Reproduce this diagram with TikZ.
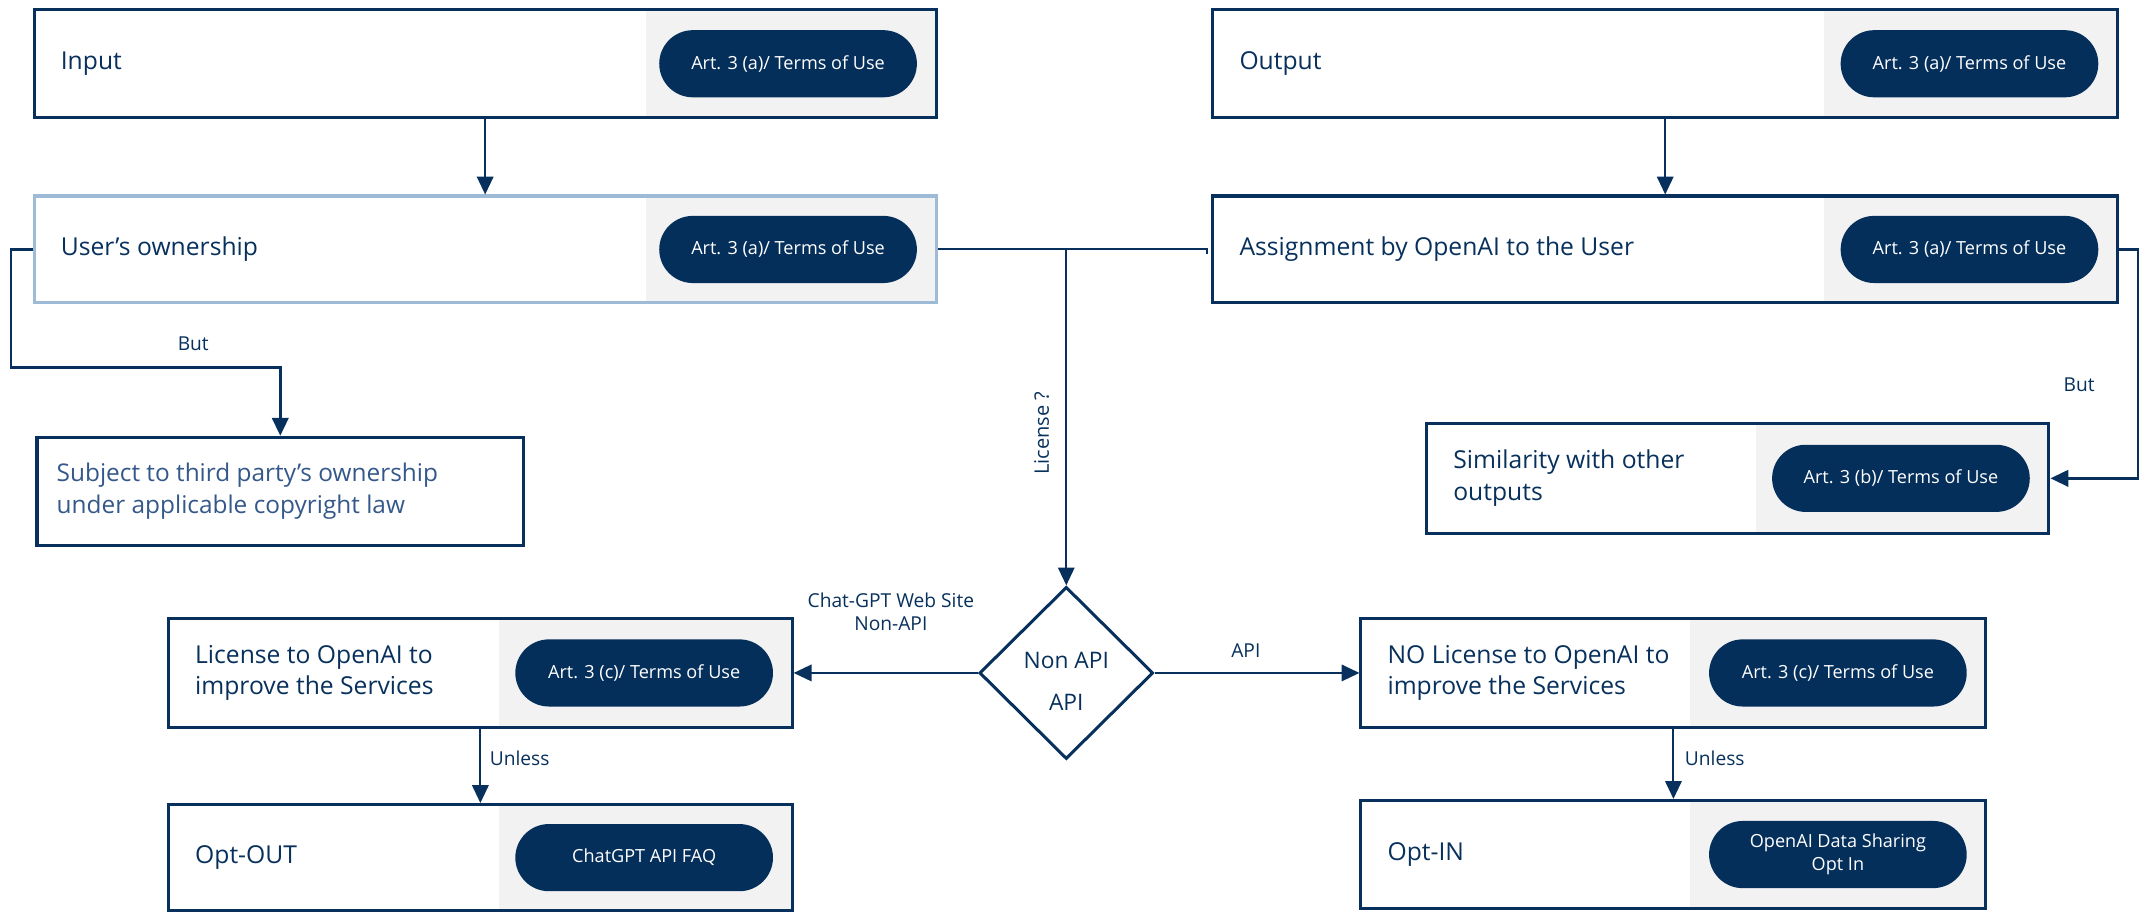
\documentclass[tikz,border=0pt]{standalone}
\usepackage{fontspec}
\setmainfont{Open Sans}
\usetikzlibrary{arrows.meta,shapes.geometric,fit}
\definecolor{navy}{HTML}{07305C}
\definecolor{pillc}{HTML}{052F5B}
\definecolor{grayfill}{HTML}{F2F2F2}
\definecolor{lightb}{HTML}{9DBAD6}
\definecolor{subjc}{HTML}{34588A}
\newcommand\mytitlefont{\fontsize{9}{11.5}\selectfont}
\newcommand\mypillfont{\fontsize{6.6}{8.5}\selectfont}
\newcommand\mylblfont{\fontsize{7}{8.5}\selectfont}
\newcommand\mkbox[9]{%
  \fill[grayfill] (#7,#4) rectangle (#5,#6);
  \node[box, draw=#2, fit={(#3,#4) (#5,#6)}] (#1) {};
  \node[titletext] (#1-t) at ({#3+19},{(#4+#6)/2}) {#8};
  \node[pill] (#1-p) at ({#5-108},{(#4+#6)/2}) {#9};
}
\begin{document}
\begin{tikzpicture}[x=0.5pt,y=-0.5pt,
  box/.style={line width=1.1pt, inner sep=0pt},
  pill/.style={fill=pillc, rounded corners=12.25pt, minimum width=94pt, minimum height=24.5pt,
    text=white, font=\mypillfont, align=center, inner sep=0pt},
  titletext/.style={font=\mytitlefont, text=navy, anchor=west, align=left, inner sep=0pt},
  subjtext/.style={font=\fontsize{8.9}{11.5}\selectfont, text=subjc, anchor=west, align=left, inner sep=0pt},
  conn/.style={draw=navy, line width=0.7pt},
  arr/.style={conn, -{Triangle[length=6.5pt,width=6pt]}},
  lbl/.style={font=\mylblfont, text=navy, inner sep=0pt, align=center},
]
\useasboundingbox (0,0) rectangle (1568,666);

% boxes
\mkbox{input}{navy}{25}{7}{683}{86}{471}{Input}{Art. 3 (a)/ Terms of Use}
\mkbox{user}{lightb}{25}{143}{683}{221}{471}{User’s ownership}{Art. 3 (a)/ Terms of Use}
\mkbox{output}{navy}{885}{7}{1545}{86}{1331}{Output}{Art. 3 (a)/ Terms of Use}
\mkbox{assign}{navy}{885}{143}{1545}{221}{1331}{Assignment by OpenAI to the User}{Art. 3 (a)/ Terms of Use}
\mkbox{sim}{navy}{1041}{309}{1495}{389}{1281}{Similarity with other\\outputs}{Art. 3 (b)/ Terms of Use}
\mkbox{lic}{navy}{123}{451}{578}{531}{364}{License to OpenAI to\\improve the Services}{Art. 3 (c)/ Terms of Use}
\mkbox{nolic}{navy}{993}{451}{1449}{531}{1233}{NO License to OpenAI to\\improve the Services}{Art. 3 (c)/ Terms of Use}
\mkbox{optout}{navy}{123}{587}{578}{664.5}{364}{Opt-OUT}{ChatGPT API FAQ}
\mkbox{optin}{navy}{993}{584}{1449}{663}{1233}{Opt-IN}{OpenAI Data Sharing\\Opt In}

\node[box, draw=navy, fit={(27,319) (382,398)}] (subj) {};
\node[subjtext] (subj-t) at (41,358.5) {Subject to third party’s ownership\\under applicable copyright law};

% diamond
\node[diamond, draw=navy, line width=1.1pt, minimum width=63.4pt, minimum height=62.8pt, inner sep=0pt] (dia) at (778,491) {};
\node[font=\fontsize{8.3}{15.5}\selectfont, text=navy, align=center, inner sep=0pt] (dia-t) at (778,497) {Non API\\API};

% connectors
\draw[arr] (input) -- (user);
\draw[arr] (output) -- (assign);
\draw[arr, line width=0.9pt] (user.west) -| (8,268) -| (subj.north);
\node[lbl] (but1) at (141,251) {But};
\draw[conn] (user.east) -- (880.5,182) -- (880.5,185);
\coordinate (jn) at (778,182);
\draw[arr] (jn) -- (dia.north);
\node[lbl, rotate=90, font=\fontsize{7.3}{8.5}\selectfont] (licq) at (760,316) {License ?};
\draw[arr, line width=0.9pt] (assign.east) -| (1560,349) -- (sim.east);
\node[lbl] (but2) at (1517,281) {But};
\draw[arr] (dia.west) -- (lic.east);
\node[lbl] (chat) at (650,446.5) {Chat-GPT Web Site\\Non-API};
\draw[arr] (dia.east) -- (nolic.west);
\node[lbl] (apil) at (909,475) {API};
\draw[arr] (lic) -- (optout);
\node[lbl, anchor=west] (unl1) at (357,553) {Unless};
\draw[arr] (nolic) -- (optin);
\node[lbl, anchor=west] (unl2) at (1229,553) {Unless};
\end{tikzpicture}
\end{document}
